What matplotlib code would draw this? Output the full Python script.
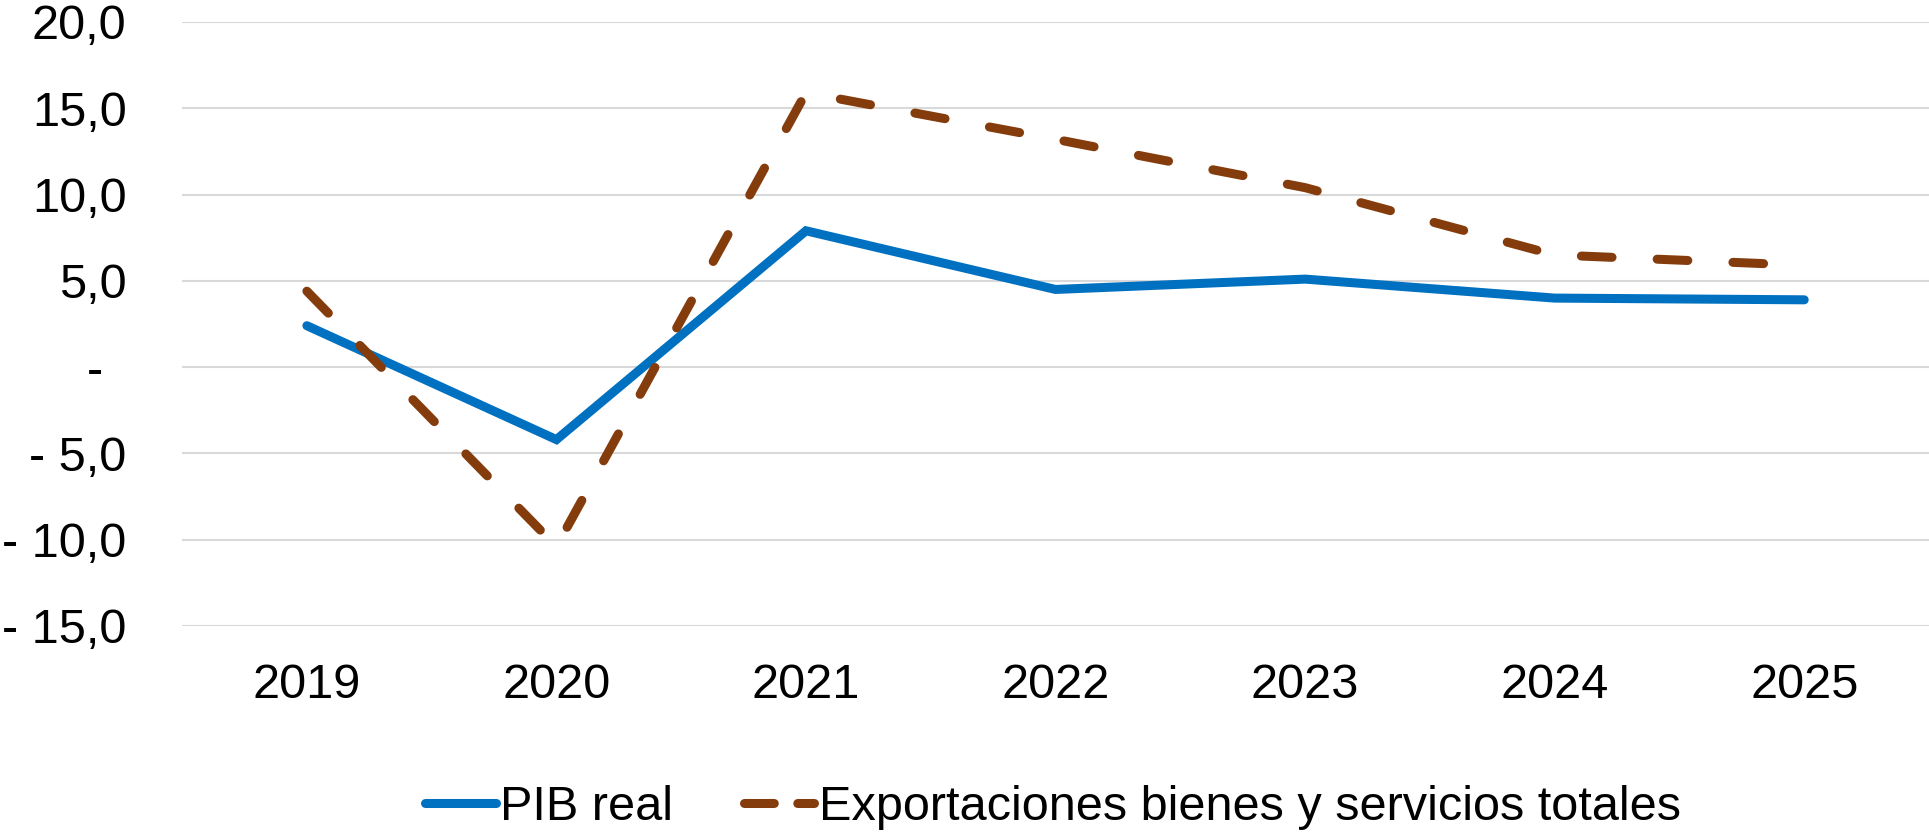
import matplotlib
matplotlib.use("Agg")
import matplotlib.pyplot as plt
from matplotlib.transforms import ScaledTranslation

plt.rcParams['font.family'] = ['Liberation Sans', 'DejaVu Sans']

years = ["2019", "2020", "2021", "2022", "2023", "2024", "2025"]
pib_real = [2.4, -4.2, 7.9, 4.5, 5.1, 4.0, 3.9]
exportaciones = [4.4, -10.4, 15.9, 13.2, 10.4, 6.5, 5.9]
yticks = [-15, -10, -5, 0, 5, 10, 15, 20]
ytick_labels = ["- 15,0", "- 10,0", "- 5,0", "-", "5,0", "10,0", "15,0", "20,0"]

fig = plt.figure(figsize=(19.29, 8.32), dpi=100)
ax = fig.add_axes([0.0944, 0.2476, 0.9056, 0.726])

x = list(range(len(years)))
ax.plot(x, pib_real, color="#0070C0", lw=6.5, solid_capstyle="round",
        solid_joinstyle="miter", label="PIB real", zorder=3)
ax.plot(x, exportaciones, color="#843C0C", lw=6.5, linestyle=(0, (3.4, 5.0)),
        dash_capstyle="round", label="Exportaciones bienes y servicios totales", zorder=3)

ax.set_xlim(-0.5, 6.5)
ax.set_ylim(-15, 20)
ax.set_yticks(yticks)
ax.set_yticklabels(ytick_labels)
ax.set_xticks(x)
ax.set_xticklabels(years)
ax.grid(axis="y", color="#D9D9D9", lw=1.5, zorder=0)
ax.grid(axis="x", visible=False)
for s in ax.spines.values():
    s.set_visible(False)
ax.tick_params(axis="both", length=0, labelsize=35, colors="black")
ax.tick_params(axis="y", pad=40)
ax.tick_params(axis="x", pad=27)

# zero label offset (accounting format)
for lab in ax.get_yticklabels():
    if lab.get_text() == "-":
        lab.set_transform(lab.get_transform() + ScaledTranslation(-24/100, 0, fig.dpi_scale_trans))

leg = fig.legend(loc="center", bbox_to_anchor=(0.546, 0.029), ncol=2, frameon=False,
                 fontsize=35, handlelength=1.45, handletextpad=0.1, columnspacing=1.45,
                 borderaxespad=0)
leg_lines = leg.get_lines()
leg_lines[1].set_linestyle((0, (3.3, 2.6)))
leg_lines[1].set_dash_capstyle("round")
leg_lines[0].set_solid_capstyle("round")

fig.savefig("out.png", dpi=100)
